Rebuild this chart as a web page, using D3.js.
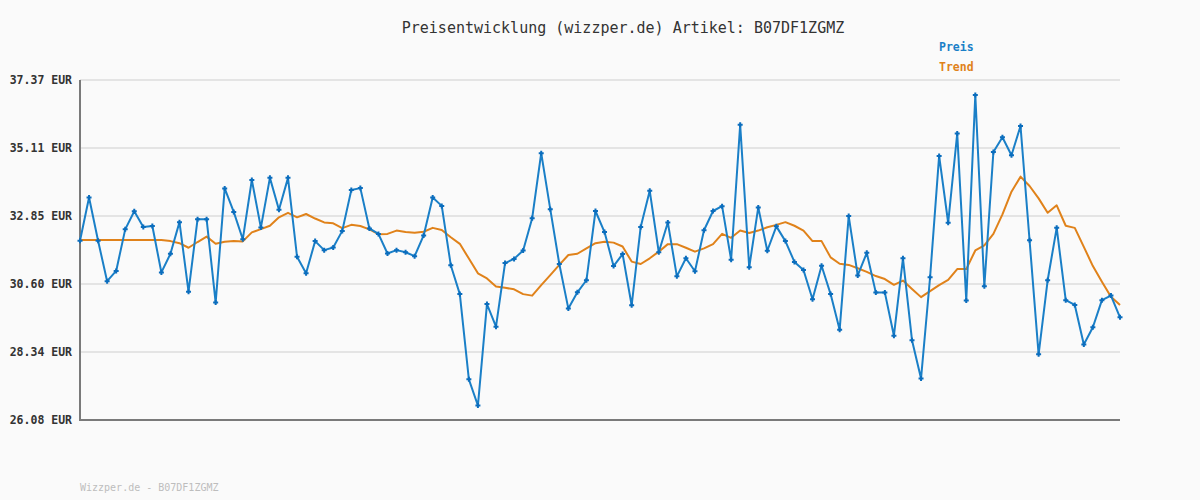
<!DOCTYPE html>
<html>
<head>
<meta charset="utf-8">
<script src="https://cdn.jsdelivr.net/npm/d3@7"></script>
<style>
html,body{margin:0;padding:0;background:#fafafa;}
svg{display:block;}
</style>
</head>
<body>
<svg id="chart" width="1200" height="500"></svg>
<script>
const titleText = "Preisentwicklung (wizzper.de) Artikel: B07DF1ZGMZ";
const footerText = "Wizzper.de - B07DF1ZGMZ";
const seriesNames = ["Preis", "Trend"];
const tickValues = [26.08, 28.34, 30.60, 32.85, 35.11, 37.37];
const tickLabels = ["26.08 EUR", "28.34 EUR", "30.60 EUR", "32.85 EUR", "35.11 EUR", "37.37 EUR"];

const preis = [
  32.03, 33.47, 32.03, 30.69, 31.03, 32.41, 33.01, 32.49, 32.52, 30.98,
  31.60, 32.65, 30.34, 32.75, 32.75, 29.98, 33.77, 32.99, 32.08, 34.05,
  32.47, 34.12, 33.06, 34.12, 31.50, 30.95, 32.02, 31.72, 31.81, 32.36,
  33.72, 33.78, 32.44, 32.26, 31.61, 31.72, 31.65, 31.52, 32.21, 33.47,
  33.19, 31.22, 30.26, 27.43, 26.56, 29.93, 29.18, 31.29, 31.43, 31.71,
  32.78, 34.94, 33.08, 31.26, 29.78, 30.32, 30.72, 33.02, 32.32, 31.19,
  31.59, 29.89, 32.49, 33.69, 31.65, 32.64, 30.85, 31.45, 31.02, 32.38,
  33.02, 33.18, 31.40, 35.88, 31.15, 33.14, 31.70, 32.51, 32.02, 31.33,
  31.06, 30.09, 31.20, 30.26, 29.08, 32.85, 30.88, 31.63, 30.31, 30.31,
  28.88, 31.45, 28.73, 27.46, 30.82, 34.85, 32.63, 35.59, 30.05, 36.87,
  30.52, 34.98, 35.47, 34.87, 35.84, 32.05, 28.26, 30.72, 32.46, 30.06,
  29.90, 28.59, 29.16, 30.06, 30.21, 29.49
];

const trend = [
  32.06, 32.06, 32.06, 32.06, 32.06, 32.06, 32.06, 32.06, 32.06, 32.06,
  32.02, 31.95, 31.80, 31.99, 32.17, 31.93, 32.00, 32.02, 32.01, 32.31,
  32.42, 32.53, 32.81, 32.96, 32.81, 32.92, 32.77, 32.64, 32.61, 32.45,
  32.56, 32.52, 32.41, 32.25, 32.26, 32.37, 32.32, 32.30, 32.33, 32.46,
  32.39, 32.15, 31.93, 31.44, 30.95, 30.78, 30.51, 30.47, 30.42, 30.26,
  30.21, 30.56, 30.89, 31.23, 31.56, 31.60, 31.78, 31.95, 32.00, 31.97,
  31.84, 31.34, 31.26, 31.45, 31.67, 31.92, 31.92, 31.80, 31.67, 31.78,
  31.92, 32.26, 32.13, 32.37, 32.29, 32.37, 32.48, 32.56, 32.65, 32.53,
  32.37, 32.02, 32.02, 31.48, 31.27, 31.23, 31.12, 31.00, 30.86, 30.76,
  30.57, 30.71, 30.43, 30.16, 30.36, 30.56, 30.73, 31.09, 31.09, 31.71,
  31.88, 32.26, 32.91, 33.66, 34.16, 33.85, 33.44, 32.96, 33.21, 32.53,
  32.46, 31.83, 31.19, 30.67, 30.17, 29.90
];

(function () {
const W = 1200, H = 500;
const mL = 80, mR = 1120, mT = 80, mB = 420;
const blue = "#1a7fc7", blueMark = "#0b6dbd", orange = "#e0821a";
const mono = "'DejaVu Sans Mono', 'Liberation Mono', monospace";

const svg = d3.select("#chart");
svg.append("rect").attr("width", W).attr("height", H).attr("fill", "#fafafa");

const x = d3.scaleLinear().domain([0, preis.length - 1]).range([mL, mR]);
const y = d3.scaleLinear().domain([tickValues[0], tickValues[tickValues.length - 1]]).range([mB, mT]);

// gridlines
svg.append("g").selectAll("line").data(tickValues.slice(1)).join("line")
  .attr("x1", mL).attr("x2", mR)
  .attr("y1", d => y(d)).attr("y2", d => y(d))
  .attr("stroke", "#e4e4e4").attr("stroke-width", 2);

// y axis labels via d3 axis
const yAxis = d3.axisLeft(y).tickValues(tickValues)
  .tickFormat((d, i) => tickLabels[i]).tickSize(0).tickPadding(8);
const gy = svg.append("g").attr("transform", `translate(${mL},0)`).call(yAxis);
gy.select(".domain").remove();
gy.selectAll("text")
  .attr("font-family", mono).attr("font-size", "11.5px").attr("font-weight", "bold")
  .attr("fill", "#333");

// axes lines
svg.append("line").attr("x1", mL).attr("x2", mL).attr("y1", mT).attr("y2", mB + 1)
  .attr("stroke", "#7a7a7a").attr("stroke-width", 2);
svg.append("line").attr("x1", mL - 1).attr("x2", mR).attr("y1", mB).attr("y2", mB)
  .attr("stroke", "#7a7a7a").attr("stroke-width", 2);

// trend line
const line = d3.line().x((d, i) => x(i)).y(d => y(d));
svg.append("path").datum(trend).attr("d", line)
  .attr("fill", "none").attr("stroke", orange).attr("stroke-width", 2).attr("stroke-linejoin", "round");

// price line
svg.append("path").datum(preis).attr("d", line)
  .attr("fill", "none").attr("stroke", blue).attr("stroke-width", 2).attr("stroke-linejoin", "round");

// markers
svg.append("g").selectAll("path").data(preis).join("path")
  .attr("d", (d, i) => {
    const cx = x(i), cy = y(d), s = 2.5;
    return `M${cx - s},${cy}H${cx + s}M${cx},${cy - s}V${cy + s}`;
  })
  .attr("stroke", blueMark).attr("stroke-width", 2);

// title
svg.append("text").attr("x", 623).attr("y", 33).attr("text-anchor", "middle")
  .attr("font-family", mono).attr("font-size", "15px").attr("fill", "#333")
  .text(titleText);

// legend
const legendColors = [blue, orange];
svg.append("g").selectAll("text").data(seriesNames).join("text")
  .attr("x", 939).attr("y", (d, i) => 51 + i * 20)
  .attr("font-family", mono).attr("font-size", "11.5px").attr("font-weight", "bold")
  .attr("fill", (d, i) => legendColors[i])
  .text(d => d);

// footer
svg.append("text").attr("x", 80).attr("y", 491)
  .attr("font-family", mono).attr("font-size", "10px").attr("fill", "#bdbdbd")
  .text(footerText);
})();
</script>
</body>
</html>
